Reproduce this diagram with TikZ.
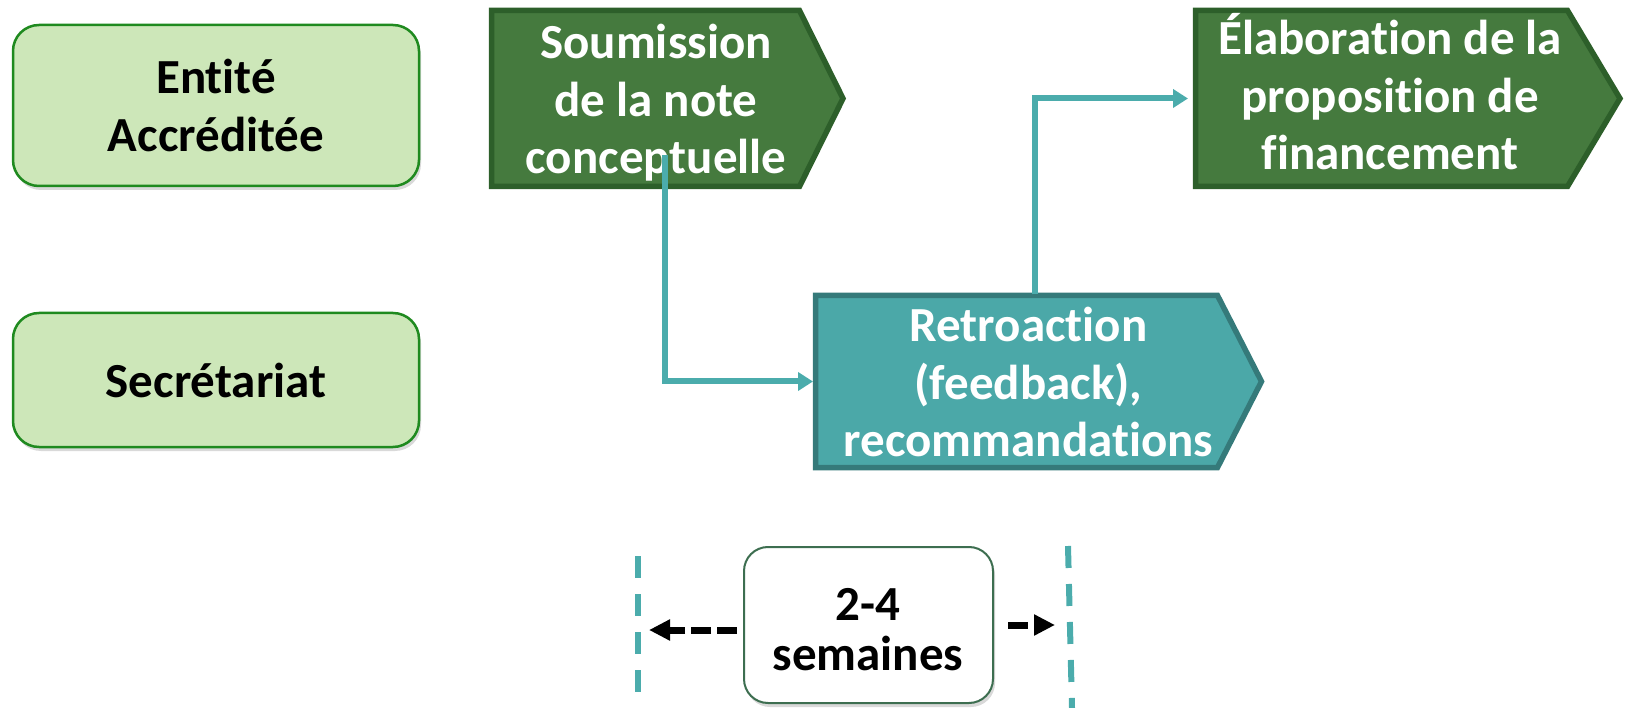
\documentclass[tikz,border=0pt]{standalone}
\usepackage{fontspec}
\setmainfont{Carlito}[RawFeature={-liga}]
\usetikzlibrary{arrows.meta,shadows,calc}
\definecolor{lgfill}{HTML}{CDE7B9}
\definecolor{lgdraw}{HTML}{1F8A1F}
\definecolor{dgfill}{HTML}{457A3E}
\definecolor{dgdraw}{HTML}{2D5F2A}
\definecolor{tlfill}{HTML}{4BA8A8}
\definecolor{tldraw}{HTML}{357A7A}
\definecolor{tlline}{HTML}{4BACAC}
\definecolor{wbdraw}{HTML}{3D6E50}
\begin{document}
\begin{tikzpicture}[x=1pt,y=-1pt,
  txt/.style={font=\fontsize{49}{57.5}\selectfont\bfseries, align=center, inner sep=0pt},
  lbox/.style={txt, draw=lgdraw, fill=lgfill, line width=2.5pt, rounded corners=26pt,
    drop shadow={shadow xshift=2pt, shadow yshift=-4pt, opacity=0.3}},
  wbox/.style={draw=wbdraw, fill=white, line width=2pt, rounded corners=24pt,
    drop shadow={shadow xshift=2pt, shadow yshift=-4pt, opacity=0.3}},
  body/.style={inner sep=0pt, outer sep=0pt},
  gshape/.style={fill=dgfill, draw=dgdraw, line width=5.5pt},
  tshape/.style={fill=tlfill, draw=tldraw, line width=5.5pt},
  conn/.style={draw=tlline, line width=6pt, -{Triangle[length=15pt,width=18pt]}},
  tdash/.style={draw=tlline, line width=6pt, dash pattern=on 22pt off 16pt},
  darr/.style={draw=black, line width=7pt, dash pattern=on 20pt off 6pt, -{Triangle[length=21pt,width=20pt]}}
]
\useasboundingbox (0,0) rectangle (1625,708);

% lane labels
\node[lbox, minimum width=406, minimum height=161] (ea) at (216,105.5) {Entité\\Accréditée};
\node[lbox, minimum width=406, minimum height=134] (sec) at (216,380) {Secrétariat};

% process shapes
\node[body, minimum width=308, minimum height=176] (soum) at (645.5,98.5) {};
\draw[gshape] (soum.north west) -- (soum.north east) -- ($(soum.east)+(43.5,0)$) -- (soum.south east) -- (soum.south west) -- cycle;
\node[txt, text=white] (soumt) at (656,103) {Soumission\\de la note\\conceptuelle};

\node[body, minimum width=372, minimum height=176] (elab) at (1381.5,98.5) {};
\draw[gshape] (elab.north west) -- (elab.north east) -- ($(elab.east)+(52.5,0)$) -- (elab.south east) -- (elab.south west) -- cycle;
\node[txt, text=white] (elabt) at (1390,92) {Élaboration de la\\proposition de\\financement};

\node[body, minimum width=402, minimum height=172] (retro) at (1016.5,381.5) {};
\draw[tshape] (retro.north west) -- (retro.north east) -- ($(retro.east)+(44,0)$) -- (retro.south east) -- (retro.south west) -- cycle;
\node[txt, text=white] (retrot) at (1028.5,382) {Retroaction\\(feedback),\\recommandations};

% connectors
\coordinate (c1) at (665,155);
\draw[conn, shorten >=2.5pt] (c1) |- (retro.west);
\draw[conn, shorten >=7.5pt] ($(retro.north)+(18.5,-1)$) |- (elab.west);

% timeline
\draw[tdash] (638,556) -- (638,708);
\draw[tdash] (1068,546) -- (1072,708);

\node[wbox, minimum width=249, minimum height=156] (sem) at (868.5,625) {};
\node[txt, font=\fontsize{49}{50}\selectfont\bfseries] (semt) at (868,629.5) {2-4\\semaines};

\coordinate (la) at (737,630);
\coordinate (lb) at (649,630);
\coordinate (ra) at (1008,625);
\coordinate (rb) at (1055,625);
\draw[darr] (la) -- (lb);
\draw[darr] (ra) -- (rb);
\end{tikzpicture}
\end{document}
